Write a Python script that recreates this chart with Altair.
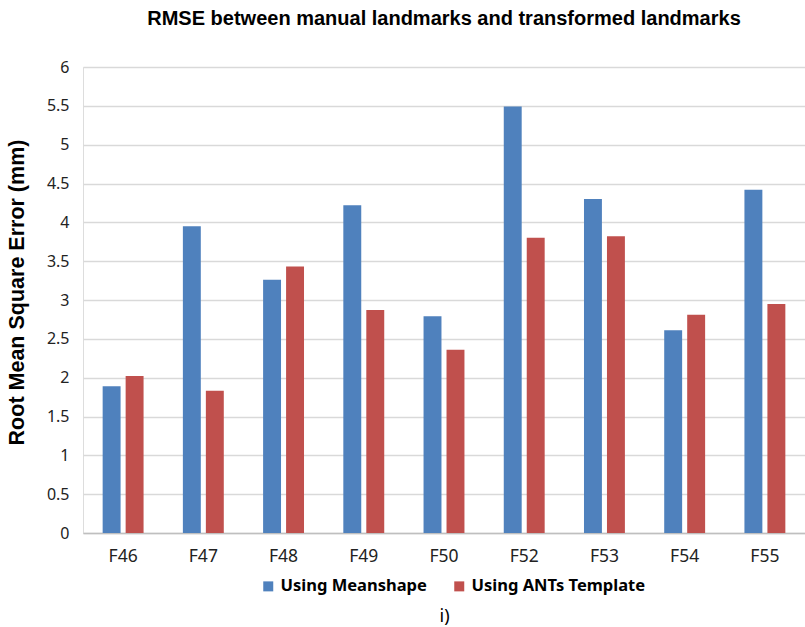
import altair as alt
import pandas as pd

# Per-subject RMSE (mm) for the two landmark transfer approaches
subjects = ["F46", "F47", "F48", "F49", "F50", "F52", "F53", "F54", "F55"]
meanshape = [1.89, 3.95, 3.26, 4.22, 2.79, 5.49, 4.30, 2.61, 4.42]
ants_template = [2.02, 1.83, 3.43, 2.87, 2.36, 3.80, 3.82, 2.81, 2.95]
methods = ["Using Meanshape", "Using ANTs Template"]
colors = ["#4F81BD", "#C0504D"]
y_ticks = [0, 0.5, 1, 1.5, 2, 2.5, 3, 3.5, 4, 4.5, 5, 5.5, 6]

rows = []
for s, m, a in zip(subjects, meanshape, ants_template):
    rows.append({"subject": s, "method": methods[0], "rmse": m})
    rows.append({"subject": s, "method": methods[1], "rmse": a})
df = pd.DataFrame(rows)

label_font = "Noto Sans"
bold_font = "Liberation Sans"

chart = (
    alt.Chart(df)
    .mark_bar()
    .encode(
        x=alt.X(
            "subject:N",
            sort=subjects,
            scale=alt.Scale(paddingInner=0.49, paddingOuter=0.245),
            axis=alt.Axis(
                title="i)",
                titleFont=label_font,
                titleFontSize=18,
                titleFontWeight="normal",
                titleColor="#000000",
                titlePadding=43,
                labelAngle=0,
                labelFont=label_font,
                labelFontSize=17.5,
                labelColor="#222222",
                labelPadding=14,
                ticks=False,
                domainColor="#bfbfbf",
                domainWidth=1.5,
                grid=False,
            ),
        ),
        xOffset=alt.XOffset(
            "method:N", sort=methods, scale=alt.Scale(paddingInner=0.22)
        ),
        y=alt.Y(
            "rmse:Q",
            scale=alt.Scale(domain=[0, 6], nice=False),
            axis=alt.Axis(
                title="Root Mean Square Error (mm)",
                titleFont=bold_font,
                titleFontSize=21.5,
                titleFontWeight="bold",
                titleColor="#000000",
                titlePadding=18,
                titleY=225,
                values=y_ticks,
                format="~g",
                labelFont=label_font,
                labelFontSize=16,
                labelColor="#222222",
                labelPadding=14,
                ticks=False,
                domain=False,
                gridColor="#d9d9d9",
                gridWidth=1.5,
            ),
        ),
        color=alt.Color(
            "method:N",
            sort=methods,
            scale=alt.Scale(domain=methods, range=colors),
            legend=alt.Legend(
                title=None,
                orient="none",
                direction="horizontal",
                legendX=177,
                legendY=511,
                symbolType="square",
                symbolSize=100,
                symbolStrokeWidth=0,
                labelFont=label_font,
                labelFontSize=16.5,
                labelFontWeight="bold",
                labelColor="#000000",
                labelOffset=4,
                labelLimit=0,
                columnPadding=24,
            ),
        ),
    )
    .properties(
        width=722,
        height=466,
        title=alt.TitleParams(
            "RMSE between manual landmarks and transformed landmarks",
            font=bold_font,
            fontSize=20,
            fontWeight="bold",
            color="#000000",
            anchor="middle",
            offset=30,
        ),
        autosize=alt.AutoSizeParams(type="none"),
        padding={"left": 83, "top": 67, "right": 0, "bottom": 94},
    )
    .configure_view(stroke=None)
    .configure(background="#ffffff")
)

chart.save("out.html", embed_options={"renderer": "svg", "actions": False})
